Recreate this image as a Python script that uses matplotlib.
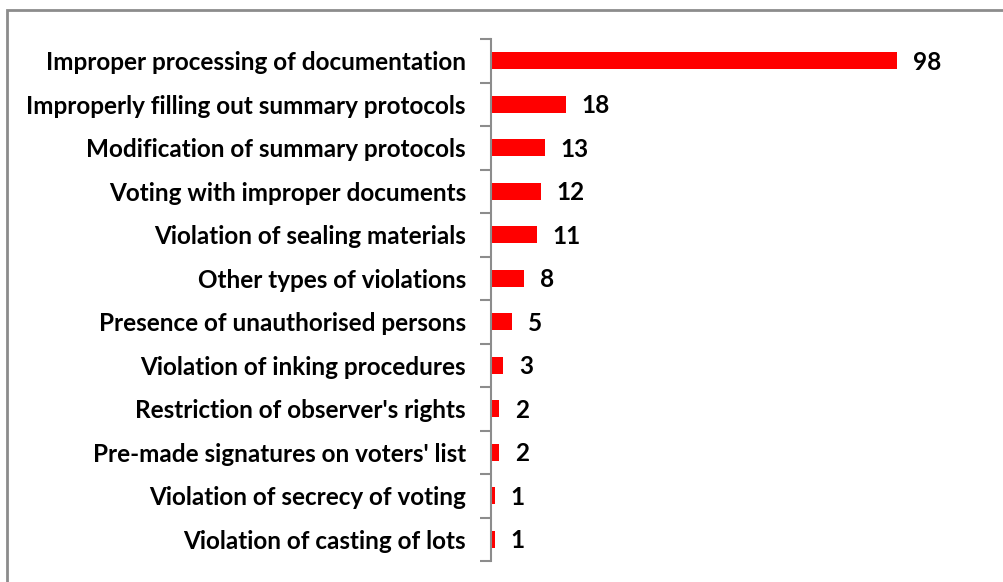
import matplotlib.pyplot as plt
from matplotlib.patches import Rectangle

categories = [
    'Improper processing of documentation',
    'Improperly filling out summary protocols',
    'Modification of summary protocols',
    'Voting with improper documents',
    'Violation of sealing materials',
    'Other types of violations',
    'Presence of unauthorised persons',
    'Violation of inking procedures',
    "Restriction of observer's rights",
    "Pre-made signatures on voters' list",
    'Violation of secrecy of voting',
    'Violation of casting of lots',
]
counts = [98, 18, 13, 12, 11, 8, 5, 3, 2, 2, 1, 1]

W, H = 1004, 582
fig = plt.figure(figsize=(W / 100, H / 100), dpi=100)
plt.rcParams['font.family'] = ['Lato', 'DejaVu Sans']

# outer frame of the chart area (only top/left fall inside the image)
fig.patches.append(Rectangle((6.5 / W, -0.05), 1.1, 1 - 10 / H + 0.05,
                             transform=fig.transFigure, fill=False,
                             edgecolor='#8c8c8c', linewidth=2))

ax = fig.add_axes([491 / W, 1 - 561 / H, 497 / W, 522 / H])
y = list(range(len(categories)))
ax.barh(y, counts, height=0.39, color='#ff0000')
ax.set_ylim(len(categories) - 0.5, -0.5)
ax.set_xlim(0, 120)

for yi, v in zip(y, counts):
    ax.text(v + 3.8, yi + 0.03, str(v), va='center', ha='left',
            fontsize=17.5, fontweight='bold', color='black')

for s in ['top', 'right', 'bottom']:
    ax.spines[s].set_visible(False)
ax.spines['left'].set_color('#8c8c8c')
ax.spines['left'].set_linewidth(1.5)
ax.set_xticks([])

# category boundaries carry the tick marks, labels sit between them
ax.set_yticks([i - 0.5 for i in range(len(categories) + 1)])
ax.set_yticklabels([])
ax.tick_params(axis='y', which='major', length=8, width=1.5, color='#8c8c8c')
ax.set_yticks(y, minor=True)
ax.set_yticklabels(categories, minor=True, fontsize=17.5, fontweight='bold')
ax.tick_params(axis='y', which='minor', length=0, pad=18)

fig.savefig('out.png', dpi=100)
